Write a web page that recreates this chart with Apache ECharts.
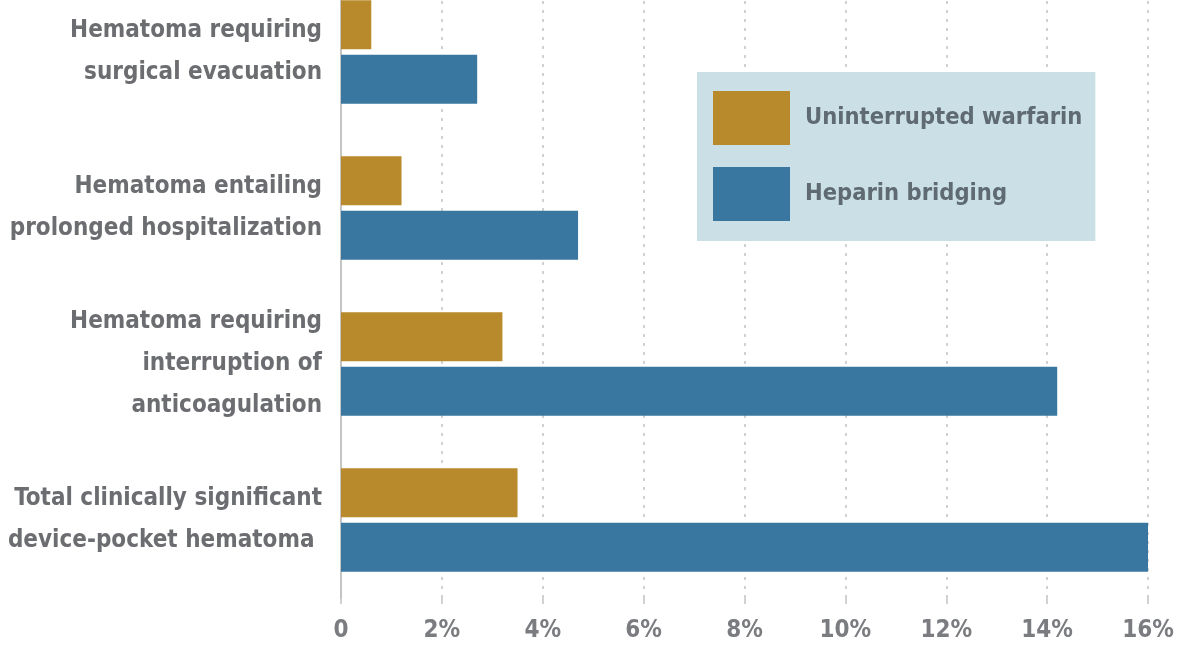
<!DOCTYPE html>
<html>
<head>
<meta charset="utf-8">
<style>
  html, body { margin: 0; padding: 0; background: #ffffff; }
  #chart { width: 1178px; height: 649px; }
</style>
<script src="https://cdn.jsdelivr.net/npm/echarts@6/dist/echarts.min.js"></script>
</head>
<body>
<div id="chart"></div>
<script>
// Outcome categories, listed top to bottom
const categories = [
  'Hematoma requiring\nsurgical evacuation',
  'Hematoma entailing\nprolonged hospitalization',
  'Hematoma requiring\ninterruption of\nanticoagulation',
  'Total clinically significant\ndevice-pocket hematoma '
];
// Incidence (%) per strategy
const warfarin = [0.6, 1.2, 3.2, 3.5];
const heparin = [2.7, 4.7, 14.2, 16.0];
// Horizontal axis ticks (%)
const xTicks = [0, 2, 4, 6, 8, 10, 12, 14, 16];

const FONT = '"DejaVu Sans Condensed", sans-serif';
const GOLD = '#b98a2c';
const BLUE = '#3a77a0';

const chart = echarts.init(document.getElementById('chart'), null, { renderer: 'canvas' });

chart.setOption({
  backgroundColor: '#ffffff',
  animation: false,
  grid: { left: 341, right: 30, top: -26, bottom: 51, containLabel: false, outerBoundsMode: 'none' },
  legend: {
    orient: 'vertical',
    left: 697,
    top: 72,
    padding: [19, 13, 20, 16],
    itemGap: 22,
    itemWidth: 77,
    itemHeight: 54,
    backgroundColor: '#cae0e6',
    borderWidth: 0,
    icon: 'rect',
    textStyle: { fontFamily: FONT, fontWeight: 'bold', fontSize: 23.5, color: '#5f6a72', padding: [0, 0, 0, 10] },
    data: ['Uninterrupted warfarin', 'Heparin bridging']
  },
  xAxis: {
    type: 'value',
    min: xTicks[0],
    max: xTicks[xTicks.length - 1],
    interval: 2,
    axisLine: { show: false },
    axisTick: { show: true, length: 6, lineStyle: { color: '#c2c2c2', type: 'dashed', width: 1.5 } },
    splitLine: { show: true, lineStyle: { color: '#c2c2c2', type: [3, 6], width: 1.5 } },
    axisLabel: {
      margin: 21,
      fontFamily: FONT,
      fontWeight: 'bold',
      fontSize: 24,
      color: '#7a7c80',
      formatter: v => (v === 0 ? '0' : v + '%')
    }
  },
  yAxis: {
    type: 'category',
    inverse: true,
    data: categories,
    axisLine: { show: true, lineStyle: { color: '#c4c4c4', width: 2 } },
    axisTick: { show: false },
    axisLabel: {
      margin: 19,
      fontFamily: FONT,
      fontWeight: 'bold',
      fontSize: 24,
      lineHeight: 42,
      color: '#6b6d70',
      align: 'right'
    }
  },
  series: [
    {
      name: 'Uninterrupted warfarin',
      type: 'bar',
      data: warfarin,
      barWidth: 49,
      barGap: '11%',
      itemStyle: { color: GOLD }
    },
    {
      name: 'Heparin bridging',
      type: 'bar',
      data: heparin,
      barWidth: 49,
      barGap: '11%',
      itemStyle: { color: BLUE }
    }
  ]
});
</script>
</body>
</html>
